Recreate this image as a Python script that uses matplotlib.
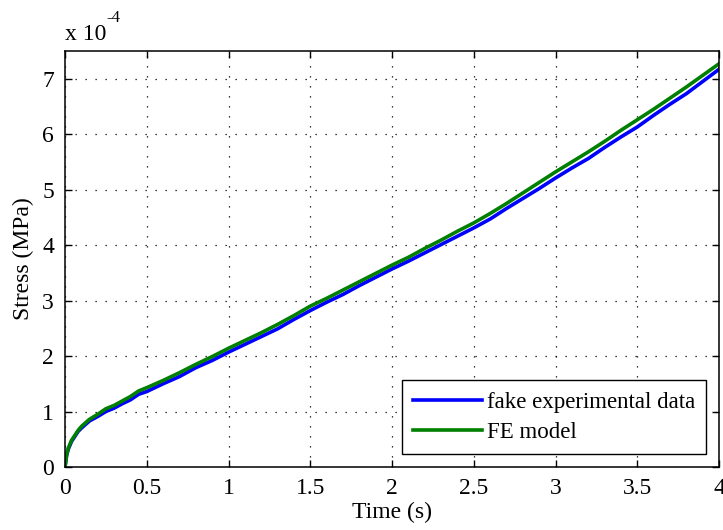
import numpy as np
import matplotlib
matplotlib.use("Agg")
import matplotlib.pyplot as plt
from matplotlib.ticker import FuncFormatter

# time samples (s)
time_s = [0.0, 0.01, 0.02, 0.04, 0.06, 0.08, 0.10, 0.15, 0.20, 0.25, 0.30, 0.35,
          0.40, 0.45, 0.50, 0.60, 0.70, 0.80, 0.90, 1.00, 1.10, 1.20, 1.30, 1.40,
          1.50, 1.60, 1.70, 1.80, 1.90, 2.00, 2.10, 2.20, 2.30, 2.40, 2.50, 2.60,
          2.70, 2.80, 2.90, 3.00, 3.10, 3.20, 3.30, 3.40, 3.50, 3.60, 3.70, 3.80,
          3.90, 4.00]

# stress in units of 1e-4 MPa
stress_exp = [0.00, 0.21, 0.32, 0.46, 0.55, 0.64, 0.70, 0.83, 0.91, 1.00, 1.06, 1.14,
              1.21, 1.31, 1.36, 1.50, 1.63, 1.79, 1.92, 2.07, 2.21, 2.35, 2.49, 2.66,
              2.82, 2.97, 3.11, 3.27, 3.42, 3.57, 3.71, 3.86, 4.01, 4.16, 4.31, 4.47,
              4.66, 4.84, 5.02, 5.21, 5.39, 5.56, 5.76, 5.95, 6.13, 6.34, 6.54, 6.73,
              6.95, 7.17]
stress_fe = [0.00, 0.22, 0.34, 0.48, 0.57, 0.66, 0.73, 0.86, 0.95, 1.05, 1.11, 1.19,
             1.27, 1.37, 1.43, 1.56, 1.70, 1.85, 1.99, 2.14, 2.28, 2.42, 2.57, 2.73,
             2.90, 3.04, 3.19, 3.34, 3.49, 3.64, 3.78, 3.94, 4.09, 4.25, 4.40, 4.57,
             4.75, 4.94, 5.13, 5.32, 5.50, 5.68, 5.87, 6.07, 6.26, 6.45, 6.65, 6.85,
             7.06, 7.27]

SCALE = 1e-4
FS = 17

plt.rcParams["font.family"] = ["Liberation Serif", "DejaVu Serif"]
plt.rcParams["font.size"] = FS

fig = plt.figure(figsize=(7.23, 5.30), dpi=100)
ax = fig.add_axes([0.0899, 0.1189, 0.9046, 0.7849])

t = np.array(time_s)
ax.plot(t, np.array(stress_exp) * SCALE, color=(0, 0, 1), lw=2.6,
        label="fake experimental data")
ax.plot(t, np.array(stress_fe) * SCALE, color=(0, 0.5, 0), lw=2.6,
        label="FE model")

ax.set_xlim(0, 4)
ax.set_ylim(0, 7.5 * SCALE)
ax.set_xticks(np.arange(0, 4.01, 0.5))
ax.set_yticks(np.arange(0, 7.1, 1) * SCALE)
ax.xaxis.set_major_formatter(FuncFormatter(lambda v, p: f"{v:g}"))
ax.yaxis.set_major_formatter(FuncFormatter(lambda v, p: f"{v / SCALE:.0f}"))
ax.tick_params(direction="in", length=5, width=1, top=True, right=True,
               labelsize=FS, pad=8)
for s in ax.spines.values():
    s.set_linewidth(1.1)
ax.grid(True, color="black", linestyle=(0, (1, 7)), linewidth=0.9)

ax.set_xlabel("Time (s)", fontsize=FS, labelpad=2)
ax.set_ylabel("Stress (MPa)", fontsize=FS, labelpad=6)
# scale factor label above the y axis
fig.text(65 / 723, 1 - 40 / 530, "x 10", fontsize=FS, ha="left", va="baseline")
fig.text(106 / 723, 1 - 22 / 530, "-4", fontsize=12, ha="left", va="baseline")

leg = ax.legend(loc="lower right", fontsize=16.5, fancybox=False, framealpha=1,
                edgecolor="black", borderaxespad=0.55, handlelength=3.0,
                handletextpad=0.2, borderpad=0.5, labelspacing=0.4)
leg.get_frame().set_linewidth(1.0)

fig.savefig("out.png", dpi=100)
